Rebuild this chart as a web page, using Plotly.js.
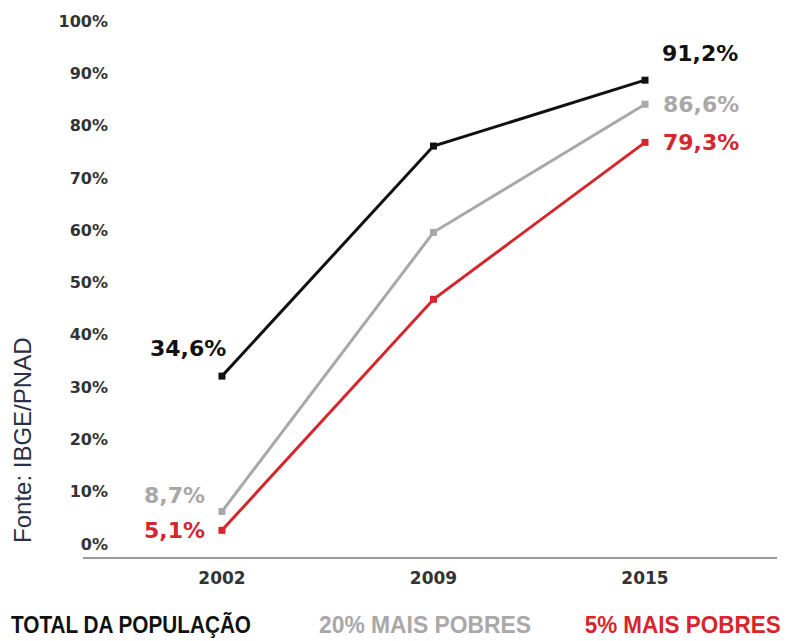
<!DOCTYPE html>
<html>
<head>
<meta charset="utf-8">
<script src="https://cdn.plot.ly/plotly-3.0.1.min.js"></script>
<style>
  html, body { margin: 0; padding: 0; background: #fff; }
  #chart { width: 792px; height: 641px; }
</style>
</head>
<body>
<div id="chart"></div>
<script>
// values (2009 points estimated from their position)
const years = ['2002', '2009', '2015'];
const totalPop = [34.6, 78.6, 91.2];
const poorest20 = [8.7, 62.1, 86.6];
const poorest5 = [5.1, 49.3, 79.3];

const tickVals = [0, 10, 20, 30, 40, 50, 60, 70, 80, 90, 100];
const tickText = tickVals.map(v => v + '%');

const legendNames = ['TOTAL DA POPULAÇÃO', '20% MAIS POBRES', '5% MAIS POBRES'];

const BLACK = '#111111';
const GRAY = '#aaa7a8';
const RED = '#d6262b';
const labelFont = 'DejaVu Sans, sans-serif';

const fmt = v => v.toFixed(1).replace('.', ',') + '%';

function series (y, color, name) {
  return {
    type: 'scatter',
    mode: 'lines+markers',
    x: years,
    y,
    name,
    line: { color, width: 3 },
    marker: { color, size: 7, symbol: 'square' },
    hoverinfo: 'x+y'
  };
}

// end labels next to the first and last point of each line
// (x is the category index: a year string would be read as a number)
function endLabel (i, y, color, xanchor, xshift, yshift) {
  return {
    x: i,
    y: y[i],
    text: fmt(y[i]),
    showarrow: false,
    xanchor,
    yanchor: 'middle',
    xshift,
    yshift,
    font: { family: labelFont, size: 22, weight: 'bold', color }
  };
}

// caption under the chart, used instead of a plotly legend
function legendLabel (text, color, x, side, size) {
  return {
    xref: 'paper',
    yref: 'paper',
    x,
    y: -0.129,
    xanchor: side,
    align: side,
    yanchor: 'middle',
    borderpad: 0,
    text,
    showarrow: false,
    font: { family: 'Liberation Sans, sans-serif', size, weight: 'bold', color }
  };
}

const data = [
  series(totalPop, BLACK, legendNames[0]),
  series(poorest20, GRAY, legendNames[1]),
  series(poorest5, RED, legendNames[2])
];

const layout = {
  width: 792,
  height: 641,
  margin: { l: 83, r: 15, t: 30, b: 84 },
  paper_bgcolor: '#fff',
  plot_bgcolor: '#fff',
  showlegend: false,
  xaxis: {
    type: 'category',
    range: [-0.657, 2.624],
    showgrid: false,
    zeroline: false,
    showline: true,
    linecolor: '#9a9a9a',
    linewidth: 2,
    ticks: '',
    ticklabelstandoff: 5,
    tickfont: { family: labelFont, size: 17, weight: 'bold', color: '#333' }
  },
  yaxis: {
    range: [0, 100.8],
    anchor: 'free',
    position: 0.036,
    showgrid: false,
    zeroline: false,
    showline: false,
    ticks: '',
    tickvals: tickVals,
    ticktext: tickText,
    ticklabelshift: -13,
    tickfont: { family: labelFont, size: 16, weight: 'bold', color: '#333' }
  },
  annotations: [
    endLabel(2, totalPop, BLACK, 'left', 15, 27),
    endLabel(2, poorest20, GRAY, 'left', 16, 0),
    endLabel(2, poorest5, RED, 'left', 16, 0),
    endLabel(0, totalPop, BLACK, 'right', 6, 28),
    endLabel(0, poorest20, GRAY, 'right', -15, 16),
    endLabel(0, poorest5, RED, 'right', -15, 0),
    legendLabel(legendNames[0], BLACK, -0.105, 'left', 24),
    legendLabel(legendNames[1], GRAY, 0.339, 'left', 24),
    legendLabel(legendNames[2], RED, 1.007, 'right', 23),
    {
      xref: 'paper',
      yref: 'paper',
      x: -0.088,
      y: 0.222,
      xanchor: 'center',
      yanchor: 'middle',
      text: 'Fonte: IBGE/PNAD',
      textangle: -90,
      showarrow: false,
      font: { family: 'Liberation Sans, sans-serif', size: 24, color: '#2b2f45' }
    }
  ]
};

// widths of the condensed captions in the print
const legendWidths = [240, 212, 196];

Plotly.newPlot('chart', data, layout, { displayModeBar: false, staticPlot: true }).then(gd => {
  // no condensed font is installed, so squeeze the captions to their printed width
  gd.querySelectorAll('.annotation-text').forEach(t => {
    const k = legendNames.indexOf(t.textContent);
    if (k >= 0) {
      t.setAttribute('textLength', legendWidths[k]);
      t.setAttribute('lengthAdjust', 'spacingAndGlyphs');
    }
  });
});
</script>
</body>
</html>
